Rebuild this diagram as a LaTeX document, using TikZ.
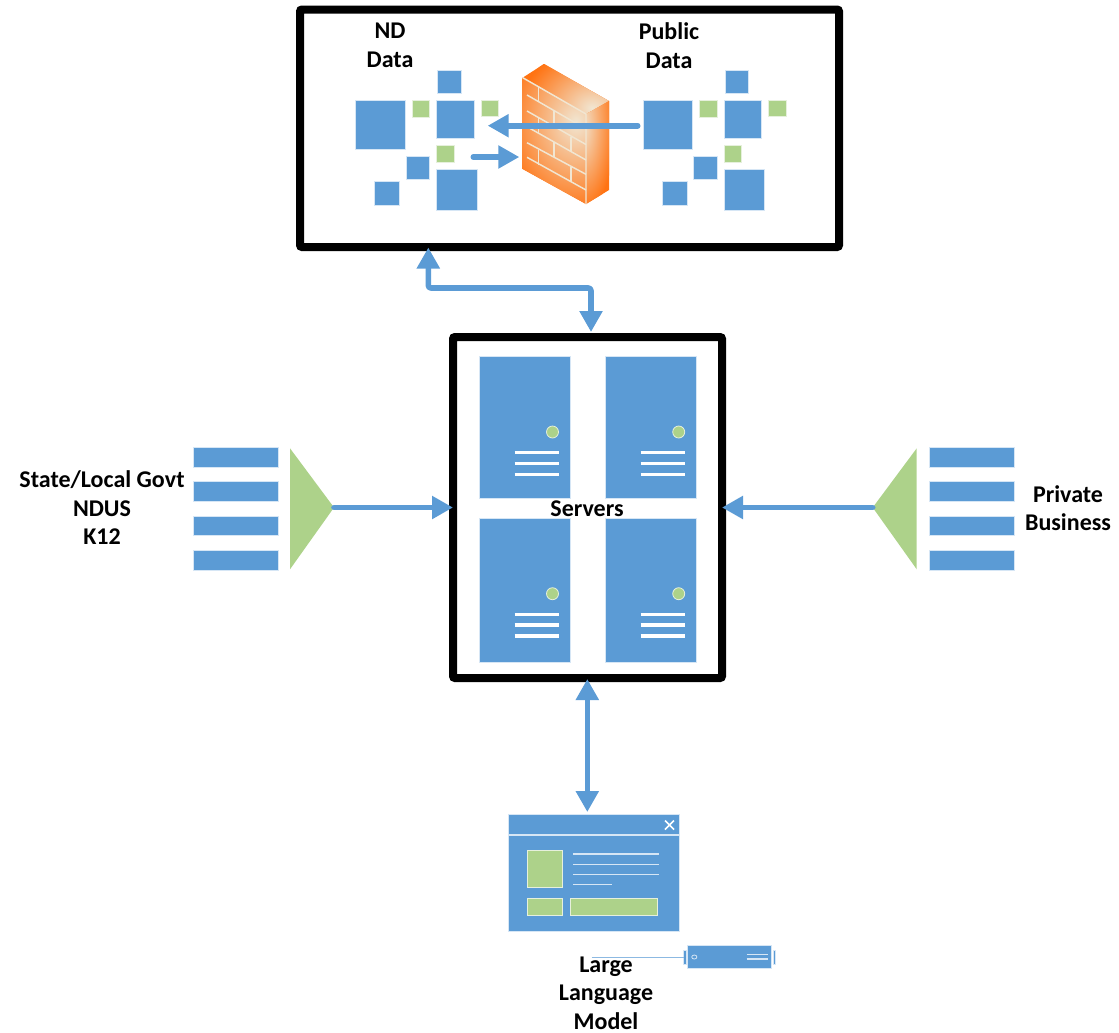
\documentclass[tikz,border=0pt]{standalone}
\usepackage{fontspec}
\setmainfont{Carlito}
\usetikzlibrary{arrows.meta}
\definecolor{bl}{HTML}{5B9BD5}
\definecolor{gr}{HTML}{ADD28A}
\definecolor{edgeb}{HTML}{D6E6F5}
\definecolor{edgeg}{HTML}{E6F0DC}
\definecolor{cream}{HTML}{F1E6D2}
\definecolor{org}{HTML}{FF7312}
\tikzset{
  blk/.style={fill=bl,draw=edgeb,line width=.6pt},
  grn/.style={fill=gr,draw=edgeg,line width=.6pt},
  frame/.style={draw=black,line width=6pt,rounded corners=1.5pt,fill=white},
  lbl/.style={font=\fontsize{18}{21.4}\selectfont\bfseries,align=center,text=black,inner sep=0pt},
  link/.style={draw=bl,line width=4.2pt,line cap=round,line join=round},
  biarrow/.style={link,{Triangle[length=15.75pt,width=16.5pt]}-{Triangle[length=15.75pt,width=16.5pt]}},
  oneway/.style={link,-{Triangle[length=15.75pt,width=16.5pt]}},
  mortar/.style={draw=cream,line width=1.1pt},
  wline/.style={draw=edgeb,line width=1pt},
  sline/.style={draw=white,line width=2.6pt}
}
\newcommand{\bx}[6]{%
  \pgfmathsetmacro{\bxw}{(#4-#2)*.75}\pgfmathsetmacro{\bxh}{(#5-#3)*.75}%
  \node[#6,minimum width=\bxw pt,minimum height=\bxh pt,inner sep=0pt,outer sep=0pt] (#1) at ({(#2+#4)/2},{(#3+#5)/2}) {};}
\newcommand{\datacluster}[2]{%
  \begin{scope}[xshift=#2*.75pt]
  \bx{#1a}{355.7}{100}{405}{149.3}{blk}
  \bx{#1b}{412}{100}{429.3}{117.7}{grn}
  \bx{#1c}{437.7}{70}{461}{93.3}{blk}
  \bx{#1d}{436.3}{100}{474}{138}{blk}
  \bx{#1e}{481}{100}{498.3}{116.7}{grn}
  \bx{#1f}{436.3}{145}{454}{162.7}{grn}
  \bx{#1g}{406}{156.7}{429.3}{179.7}{blk}
  \bx{#1h}{374.3}{181}{399.3}{205.7}{blk}
  \bx{#1i}{436.3}{169.3}{477}{210}{blk}
  \end{scope}}
\newcommand{\server}[7]{%
  % name x1 y1 x2 y2 then dot y, line y
  \bx{#1}{#2}{#3}{#4}{#5}{blk}
  \node[circle,fill=gr,draw=edgeg,line width=.6pt,minimum size=9pt,inner sep=0pt] (#1dot) at ({#4-18},#6) {};
  \draw[sline] ({#4-56},#7) -- ({#4-12},#7);
  \draw[sline] ({#4-56},{#7+10.8}) -- ({#4-12},{#7+10.8});
  \draw[sline] ({#4-56},{#7+21.6}) -- ({#4-12},{#7+21.6});
}
\begin{document}
\begin{tikzpicture}[x=.75pt,y=-.75pt]
\useasboundingbox (0,0) rectangle (1119,1032);
% frames
\bx{topbox}{300}{9.5}{839}{247}{frame}
\bx{srvbox}{453}{337}{722}{678}{frame}
% clusters
\datacluster{nd}{0}
\datacluster{pub}{287.7}
% firewall
\fill[org] (522.7,77.7) -- (544,64) -- (609,101) -- (609,190) -- (586,204) -- (522.7,169) -- cycle;
\begin{scope}
  \clip (522.7,77.7) -- (586,114) -- (586,204) -- (522.7,169) -- cycle;
  \shade[inner color=cream,outer color=org] (576,122) ellipse (72 and 92);
\end{scope}
\begin{scope}
  \clip (522.7,77.7) -- (544,64) -- (609,101) -- (586,114) -- cycle;
  \shade[inner color=cream,outer color=org] (592,108) ellipse (72 and 60);
\end{scope}
\begin{scope}
  \clip (586,114) -- (609,101) -- (609,190) -- (586,204) -- cycle;
  \shade[inner color=cream,outer color=org] (582,125) ellipse (33 and 88);
\end{scope}
\draw[mortar] (522.7,77.7) -- (586,114) -- (586,204);
\draw[mortar] (527,95) -- (586,129) (527,111) -- (586,144.5) (527,126.7) -- (586,160) (527,142.7) -- (586,174.3) (527,157.3) -- (586,190);
\draw[mortar] (538.3,87) -- (538.3,102) (554,110) -- (554,125) (538.3,118) -- (538.3,133) (571,137) -- (571,152) (554,142) -- (554,157) (538.3,150) -- (538.3,165) (571,167) -- (571,182);
% internal arrows
\coordinate (fwin) at (519.3,157);
\coordinate (fwsrc) at (473.3,157);
\coordinate (pubsrc) at (637.7,125.7);
\coordinate (ndin) at (487.7,125.7);
\draw[oneway] (pubsrc) -- (ndin);
\draw[oneway] (fwsrc) -- (fwin);
% servers
\server{s1}{479.3}{356}{570.5}{498.5}{432}{452.7}
\server{s2}{605.5}{356}{696.7}{498.5}{432}{452.7}
\server{s3}{479.3}{518}{570.5}{662}{593.7}{614.3}
\server{s4}{605.5}{518}{696.7}{662}{593.7}{614.3}
% left stack
\bx{l1}{193.3}{447}{278.3}{467}{blk}
\bx{l2}{193.3}{481.3}{278.3}{501.3}{blk}
\bx{l3}{193.3}{516}{278.3}{535.7}{blk}
\bx{l4}{193.3}{550.3}{278.3}{570.3}{blk}
\coordinate (ltip) at (334,507.5);
\fill[gr] (290,448.3) -- (ltip) -- (290,569.3) -- cycle;
% right stack
\bx{r1}{929}{447}{1014.3}{467}{blk}
\bx{r2}{929}{481.3}{1014.3}{501.3}{blk}
\bx{r3}{929}{516}{1014.3}{535.7}{blk}
\bx{r4}{929}{550.3}{1014.3}{570.3}{blk}
\coordinate (rtip) at (872.7,507.5);
\fill[gr] (916.7,448.3) -- (rtip) -- (916.7,569.3) -- cycle;
% window
\bx{win}{508}{814.7}{679.3}{931.3}{blk}
\draw[wline] (win.west |- 0,835) -- (win.east |- 0,835);
\draw[draw=white,line width=1.1pt] (665,820.5) -- (674,829.5) (674,820.5) -- (665,829.5);
\bx{wa}{527.3}{850}{562.3}{887.7}{grn}
\bx{wb}{527.3}{898.7}{562.3}{915}{grn}
\bx{wc}{570.3}{898.7}{657.3}{915}{grn}
\draw[wline] (573,854) -- (659,854) (573,864.3) -- (659,864.3) (573,874.3) -- (659,874.3) (573,884.3) -- (611.7,884.3);
% device
\bx{dev}{687.7}{945.7}{771.7}{968.3}{blk}
\bx{capl}{683.7}{950}{686.3}{964}{blk}
\bx{capr}{773.7}{950}{775.7}{964}{blk}
\coordinate (devline) at (591.7,957.3);
\draw[draw=bl!70,line width=.7pt] (devline) -- (capl.west |- devline);
\draw[draw=edgeb,line width=.6pt] (694.3,957) ellipse (2.6 and 2);
\draw[wline] (746.7,954.3) -- (768.3,954.3) (746.7,959) -- (768.3,959);
% connectors
\coordinate (ta) at (428.3,247.5);
\coordinate (tb) at (591,332);
\coordinate (tm) at (428.3,288);
\draw[biarrow,rounded corners=2pt] (ta) -- (tm) -- (tm -| tb) -- (tb);
\draw[oneway] (ltip) -- (srvbox.west);
\draw[oneway] (rtip) -- (srvbox.east);
\coordinate (ba) at (587.3,679);
\coordinate (bb) at (587.3,812);
\draw[biarrow] (ba) -- (bb);
% labels
\node[lbl] (t1) at (390,45.5) {ND\\Data};
\node[lbl] (t2) at (669,45.5) {Public\\Data};
\node[lbl] (t3) at (587,508.5) {Servers};
\node[lbl] (t4) at (102,508) {State/Local Govt\\NDUS\\K12};
\node[lbl] (t5) at (1068,508) {Private\\Business};
\node[lbl] (t6) at (606,993) {Large\\Language\\Model};
\end{tikzpicture}
\end{document}
